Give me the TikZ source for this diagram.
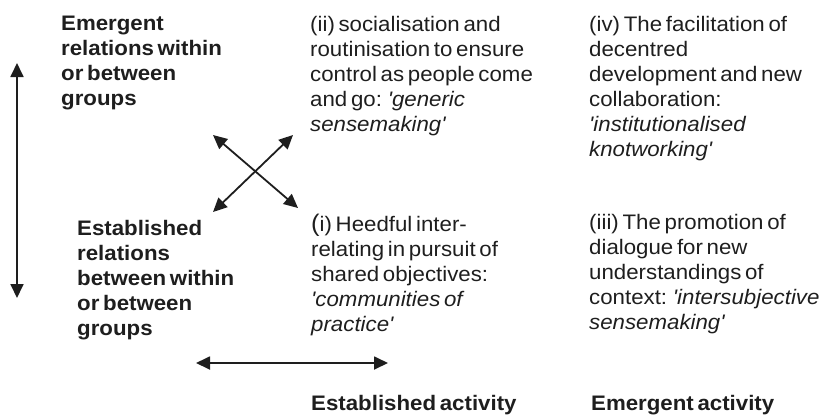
\documentclass[tikz,border=0pt]{standalone}
\usepackage{fontspec}
\usetikzlibrary{arrows.meta}
\newfontfamily\plainsans[WordSpace=0.6,FakeStretch=1.06]{Liberation Sans}
\definecolor{ink}{HTML}{1E1E1E}
% stack of left-aligned lines whose baseline is the first line's baseline
\newcommand{\linestack}[1]{\begin{tabular}[t]{@{}l@{}}#1\end{tabular}}
\newcommand{\bigparen}{{\fontsize{24}{25}\selectfont(}}
\tikzset{
  txt/.style={anchor=base west, inner sep=0pt, text=ink,
              font=\plainsans\fontsize{21}{25}\selectfont},
  heading/.style={txt, font=\plainsans\bfseries\fontsize{21}{25}\selectfont},
  axis/.style={draw=ink, line width=1.8pt,
               {Triangle[length=14pt,width=13pt]}-{Triangle[length=14pt,width=13pt]}}
}
\begin{document}
\begin{tikzpicture}[x=1pt,y=-1pt]
\useasboundingbox (0,0) rectangle (834,418);

% row and column headings
\node[heading] (emrel) at (61,30) {\linestack{Emergent\\relations within\\or between\\groups}};
\node[heading] (estrel) at (77,235) {\linestack{Established\\relations\\between within\\or between\\groups}};
\node[heading] (estact) at (311,410) {Established activity};
\node[heading] (emact) at (591,410) {Emergent activity};

% the four quadrants
\node[txt] (q2) at (310,31) {\linestack{(ii) socialisation and\\routinisation to ensure\\control as people come\\and go: \itshape'generic\\\itshape sensemaking'}};
\node[txt] (q4) at (589,31) {\linestack{(iv) The facilitation of\\decentred\\development and new\\collaboration:\\\itshape'institutionalised\\\itshape knotworking'}};
\node[txt] (q1) at (311,231) {\linestack{\bigparen i) Heedful inter-\\relating in pursuit of\\shared objectives:\\\itshape'communities of\\\itshape practice'}};
\node[txt] (q3) at (589,229) {\linestack{(iii) The promotion of\\dialogue for new\\understandings of\\context: \itshape'intersubjective\\\itshape sensemaking'}};

% axis arrows
\coordinate (vtop) at (17,63);
\coordinate (vbot) at (17,298);
\coordinate (hleft) at (196,363);
\coordinate (hright) at (388,363);
\coordinate (nw) at (213,135);
\coordinate (se) at (298,208);
\coordinate (ne) at (293,135);
\coordinate (sw) at (213,212);

\draw[axis] (vtop) -- (vbot);
\draw[axis] (hleft) -- (hright);
\draw[axis] (nw) -- (se);
\draw[axis] (ne) -- (sw);
\end{tikzpicture}
\end{document}
